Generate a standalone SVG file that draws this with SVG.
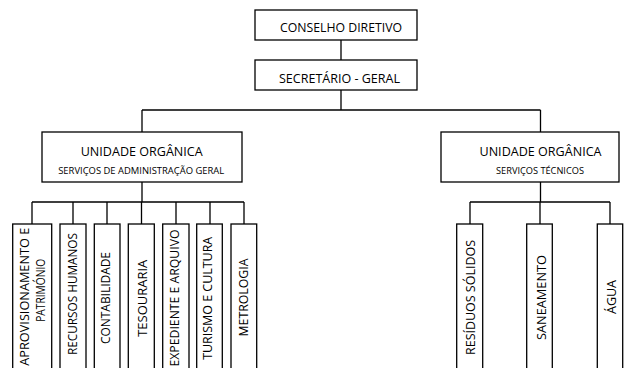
<svg xmlns="http://www.w3.org/2000/svg" width="640" height="368" viewBox="0 0 640 368">
<style>
.box{fill:#fff;stroke:#000;stroke-width:1.3}
.ln{fill:none;stroke:#000;stroke-width:1.3}
text{font-family:"Open Sans","Noto Sans","Liberation Sans",sans-serif;fill:#000}
.t{font-size:12.8px;text-anchor:middle}
.s{font-size:8.6px;text-anchor:middle}
</style>
<rect width="640" height="368" fill="#fff"/>
<g id="connectors">
<path class="ln" d="M341 40V60M341 90V110M142 110H540.5M142 110V132M540.5 110V132"/>
<path class="ln" d="M142 182V202M32 202H244M32 202V224M73 202V224M107 202V224M141.5 202V224M176 202V224M210 202V224M244 202V224"/>
<path class="ln" d="M540.5 182V202M470 202H610M470 202V224M540 202V224M610 202V224"/>
</g>
<g id="conselho">
<rect class="box" x="255" y="10" width="162" height="30"/>
<text class="t" x="341" y="31.7" textLength="122" lengthAdjust="spacingAndGlyphs">CONSELHO DIRETIVO</text>
</g>
<g id="secretario">
<rect class="box" x="255" y="60" width="162" height="30"/>
<text class="t" x="339.5" y="83.3" textLength="121" lengthAdjust="spacingAndGlyphs">SECRETÁRIO - GERAL</text>
</g>
<g id="uo-admin">
<rect class="box" x="42" y="132" width="200" height="50"/>
<text class="t" x="141.7" y="156" textLength="122" lengthAdjust="spacingAndGlyphs">UNIDADE ORGÂNICA</text>
<text class="s" x="141.2" y="174.3" textLength="166" lengthAdjust="spacingAndGlyphs">SERVIÇOS DE ADMINISTRAÇÃO GERAL</text>
</g>
<g id="uo-tecnicos">
<rect class="box" x="441" y="132" width="178" height="50"/>
<text class="t" x="540.5" y="156" textLength="122" lengthAdjust="spacingAndGlyphs">UNIDADE ORGÂNICA</text>
<text class="s" x="540" y="174" textLength="88" lengthAdjust="spacingAndGlyphs">SERVIÇOS TÉCNICOS</text>
</g>
<g id="aprovisionamento">
<rect class="box" x="12.7" y="224" width="39" height="150"/>
<text class="t" transform="translate(29.3 296.7) rotate(-90)" textLength="138" lengthAdjust="spacingAndGlyphs">APROVISIONAMENTO E</text>
<text class="t" transform="translate(45 290.3) rotate(-90)" textLength="63" lengthAdjust="spacingAndGlyphs">PATRIMÓNIO</text>
</g>
<g id="recursos-humanos">
<rect class="box" x="60" y="224" width="26" height="150"/>
<text class="t" transform="translate(77.3 294) rotate(-90)" textLength="122" lengthAdjust="spacingAndGlyphs">RECURSOS HUMANOS</text>
</g>
<g id="contabilidade">
<rect class="box" x="94.3" y="224" width="25.7" height="150"/>
<text class="t" transform="translate(110 298) rotate(-90)" textLength="92" lengthAdjust="spacingAndGlyphs">CONTABILIDADE</text>
</g>
<g id="tesouraria">
<rect class="box" x="128.3" y="224" width="26" height="150"/>
<text class="t" transform="translate(146.7 298.3) rotate(-90)" textLength="77" lengthAdjust="spacingAndGlyphs">TESOURARIA</text>
</g>
<g id="expediente">
<rect class="box" x="162.7" y="224" width="26.3" height="150"/>
<text class="t" transform="translate(179.3 298) rotate(-90)" textLength="137" lengthAdjust="spacingAndGlyphs">EXPEDIENTE E ARQUIVO</text>
</g>
<g id="turismo">
<rect class="box" x="196.7" y="224" width="25.6" height="150"/>
<text class="t" transform="translate(212.3 298.3) rotate(-90)" textLength="123" lengthAdjust="spacingAndGlyphs">TURISMO E CULTURA</text>
</g>
<g id="metrologia">
<rect class="box" x="231" y="224" width="25.7" height="150"/>
<text class="t" transform="translate(248.3 297.5) rotate(-90)" textLength="78" lengthAdjust="spacingAndGlyphs">METROLOGIA</text>
</g>
<g id="residuos">
<rect class="box" x="456.7" y="224" width="26" height="150"/>
<text class="t" transform="translate(475 297.5) rotate(-90)" textLength="115" lengthAdjust="spacingAndGlyphs">RESÍDUOS SÓLIDOS</text>
</g>
<g id="saneamento">
<rect class="box" x="526.7" y="224" width="25.6" height="150"/>
<text class="t" transform="translate(546 297.5) rotate(-90)" textLength="85" lengthAdjust="spacingAndGlyphs">SANEAMENTO</text>
</g>
<g id="agua">
<rect class="box" x="597.3" y="224" width="25.4" height="150"/>
<text class="t" transform="translate(616 297) rotate(-90)" textLength="34" lengthAdjust="spacingAndGlyphs">ÁGUA</text>
</g>
</svg>
